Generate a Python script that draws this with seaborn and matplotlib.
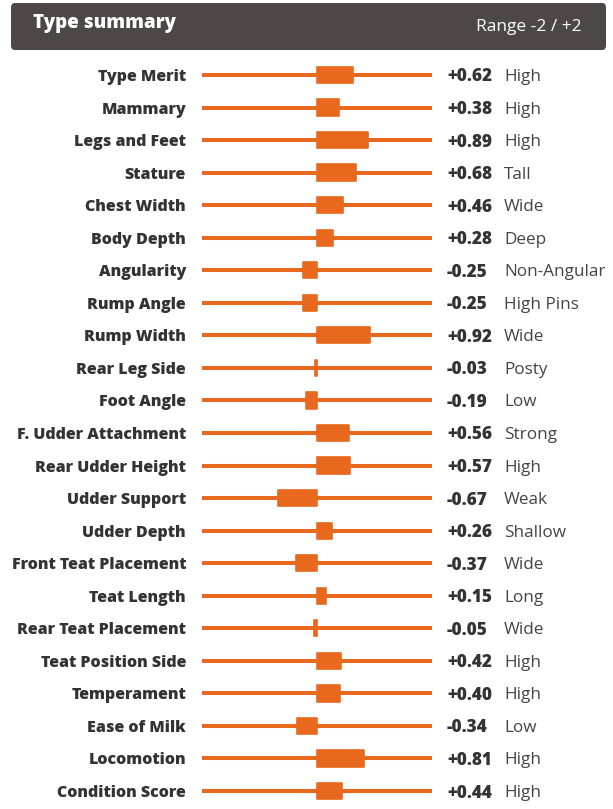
import pandas as pd
import numpy as np
import matplotlib.pyplot as plt
import seaborn as sns
from matplotlib.patches import FancyBboxPatch
import matplotlib.transforms as mtransforms

traits = ["Type Merit", "Mammary", "Legs and Feet", "Stature", "Chest Width",
          "Body Depth", "Angularity", "Rump Angle", "Rump Width", "Rear Leg Side",
          "Foot Angle", "F. Udder Attachment", "Rear Udder Height", "Udder Support",
          "Udder Depth", "Front Teat Placement", "Teat Length", "Rear Teat Placement",
          "Teat Position Side", "Temperament", "Ease of Milk", "Locomotion",
          "Condition Score"]
scores = [0.62, 0.38, 0.89, 0.68, 0.46, 0.28, -0.25, -0.25, 0.92, -0.03,
          -0.19, 0.56, 0.57, -0.67, 0.26, -0.37, 0.15, -0.05, 0.42, 0.40,
          -0.34, 0.81, 0.44]
descriptors = ["High", "High", "High", "Tall", "Wide", "Deep", "Non-Angular",
               "High Pins", "Wide", "Posty", "Low", "Strong", "High", "Weak",
               "Shallow", "Wide", "Long", "Wide", "High", "High", "Low", "High",
               "High"]

df = pd.DataFrame({"trait": traits, "score": scores, "desc": descriptors})

orange = "#e8691e"
dark = "#333333"

sns.set_style("white")
plt.rcParams['font.family'] = ['Open Sans', 'DejaVu Sans']

fig = plt.figure(figsize=(6.13, 8.09), dpi=100)

# header box
hdr = FancyBboxPatch((11 / 613, 1 - 50 / 809), 595 / 613, 47 / 809,
                     boxstyle="round,pad=0,rounding_size=0.006",
                     transform=fig.transFigure, facecolor="#4d4845",
                     edgecolor="none")
fig.patches.append(hdr)
fig.text(33 / 613, 1 - 23 / 809, "Type summary", color="white", fontsize=13.5,
         fontweight="heavy", va="center", ha="left")
fig.text(582 / 613, 1 - 27 / 809, "Range -2 / +2", color="white", fontsize=12.5,
         va="center", ha="right")

ax = fig.add_axes([202 / 613, 1 - 807.3 / 809, 230 / 613, 748.6 / 809])
n = len(traits)
ax.hlines(range(n), -2, 2, color=orange, lw=2.9, zorder=1)
sns.barplot(data=df, y="trait", x="score", color=orange, width=0.5,
            orient="h", ax=ax, zorder=2, saturation=1)
for p in ax.patches:
    p.set_edgecolor(orange)
    p.set_linewidth(1.2)
    p.set_joinstyle("round")

ax.set_xlim(-2, 2)
ax.set_ylim(n - 0.5, -0.5)
ax.set_xlabel("")
ax.set_ylabel("")
ax.set_xticks([])
sns.despine(ax=ax, left=True, bottom=True)
ax.tick_params(axis="y", length=0, pad=11.5)
for lab in ax.get_yticklabels():
    lab.set_fontweight("heavy")
    lab.set_fontsize(11.5)
    lab.set_color(dark)
    lab.set_verticalalignment("center_baseline")

trans = mtransforms.blended_transform_factory(fig.transFigure, ax.transData)
for i, (v, d) in enumerate(zip(scores, descriptors)):
    ax.text(447 / 613, i, f"{v:+.2f}", transform=trans, fontsize=12.3,
            fontweight="heavy", color=dark, va="center_baseline", ha="left")
    ax.text(504 / 613, i, d, transform=trans, fontsize=12.3,
            color="#444444", va="center_baseline", ha="left")

fig.savefig("out.png", dpi=100)
